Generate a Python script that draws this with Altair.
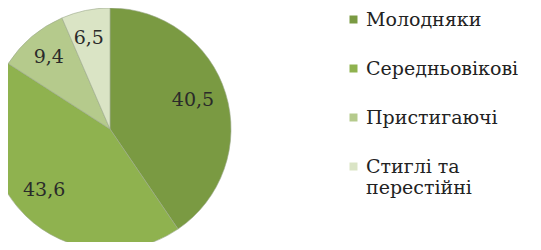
import altair as alt
import pandas as pd

categories = ["Молодняки", "Середньовікові", "Пристигаючі", "Стиглі та перестійні"]
values = [40.5, 43.6, 9.4, 6.5]
labels = ["40,5", "43,6", "9,4", "6,5"]
colors = ["#7a9a42", "#8fb24f", "#b5ca8c", "#dae4c5"]

SERIF = "DejaVu Serif"

df = pd.DataFrame({
    "cat": categories,
    "val": values,
    "lab": labels,
    "idx": list(range(len(categories))),
})

enc = dict(
    theta=alt.Theta("val:Q", stack=True),
    order=alt.Order("idx:Q"),
)

pie = alt.Chart(df).mark_arc(outerRadius=121, stroke="#9aa88a", strokeWidth=0.6).encode(
    x=alt.value(102),
    y=alt.value(121),
    color=alt.Color(
        "cat:N",
        scale=alt.Scale(domain=categories, range=colors),
        sort=categories,
        legend=alt.Legend(
            title=None,
            orient="none",
            legendX=336,
            legendY=2,
            symbolType="square",
            symbolSize=64,
            symbolStrokeWidth=0,
            labelFont=SERIF,
            labelFontSize=19,
            labelColor="#222222",
            labelLimit=300,
            rowPadding=29,
            labelOffset=3,
            labelExpr="datum.label == 'Стиглі та перестійні' ? ['Стиглі та', 'перестійні'] : datum.label",
        ),
    ),
    **enc,
)

text = alt.Chart(df).mark_text(radius=90, font=SERIF, fontSize=19, color="#2a2a2a").encode(
    x=alt.value(99),
    y=alt.value(118),
    text="lab:N",
    **enc,
)

chart = (pie + text).properties(
    width=525, height=234, padding=0, autosize="none"
).configure_view(stroke=None)

chart.save("out.html", embed_options={"renderer": "svg", "actions": False})
